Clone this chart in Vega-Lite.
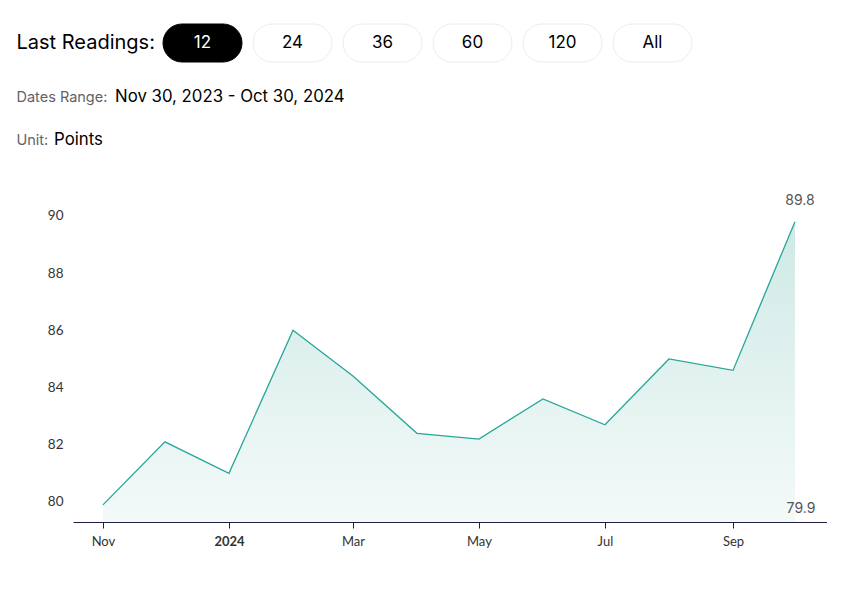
{
  "$schema": "https://vega.github.io/schema/vega-lite/v6.json",
  "background": "white",
  "padding": {"left": 16, "top": 23, "right": 0, "bottom": 0},
  "columns": 1,
  "spacing": 26,
  "bounds": "full",
  "config": {"view": {"stroke": null}},
  "concat": [
    {
      "width": 709,
      "height": 38,
      "data": {"values": [
        {"label": "Last Readings:", "option": "12", "selected": true},
        {"label": "Last Readings:", "option": "24", "selected": false},
        {"label": "Last Readings:", "option": "36", "selected": false},
        {"label": "Last Readings:", "option": "60", "selected": false},
        {"label": "Last Readings:", "option": "120", "selected": false},
        {"label": "Last Readings:", "option": "All", "selected": false}
      ]},
      "encoding": {
        "x": {"field": "option", "type": "nominal", "sort": null, "scale": {"paddingInner": 0.122, "paddingOuter": 1}, "axis": null},
        "y": {"field": "label", "type": "nominal", "scale": {"paddingInner": 0, "paddingOuter": 0},
          "axis": {"title": null, "domain": false, "ticks": false, "labelFontSize": 20, "labelColor": "#000000", "labelFont": "Inter", "labelAlign": "left", "labelPadding": 57}}
      },
      "layer": [
        {
          "mark": {"type": "rect", "cornerRadius": 19, "strokeWidth": 1},
          "encoding": {
            "fill": {"condition": {"test": "datum.selected", "value": "#000000"}, "value": "#ffffff"},
            "stroke": {"condition": {"test": "datum.selected", "value": "#000000"}, "value": "#ececec"}
          }
        },
        {
          "mark": {"type": "text", "fontSize": 17, "font": "Inter"},
          "encoding": {
            "text": {"field": "option"},
            "color": {"condition": {"test": "datum.selected", "value": "#ffffff"}, "value": "#000000"}
          }
        }
      ]
    },
    {
      "width": 400,
      "height": 16,
      "data": {"values": [{"label": "Dates Range:", "value": "Nov 30, 2023 - Oct 30, 2024"}]},
      "mark": {"type": "text", "align": "left", "fontSize": 16.8, "font": "Inter", "color": "#000000", "dx": 42},
      "encoding": {
        "x": {"datum": 0, "type": "quantitative", "scale": {"domain": [0, 1]}, "axis": null},
        "y": {"field": "label", "type": "nominal",
          "axis": {"title": null, "domain": false, "ticks": false, "labelFontSize": 14.5, "labelColor": "#5f6368", "labelFont": "Inter", "labelAlign": "left", "labelPadding": 57}},
        "text": {"field": "value"}
      }
    },
    {
      "width": 400,
      "height": 16,
      "data": {"values": [{"label": "Unit:", "value": "Points"}]},
      "mark": {"type": "text", "align": "left", "fontSize": 16.8, "font": "Inter", "color": "#000000", "dx": -19},
      "encoding": {
        "x": {"datum": 0, "type": "quantitative", "scale": {"domain": [0, 1]}, "axis": null},
        "y": {"field": "label", "type": "nominal",
          "axis": {"title": null, "domain": false, "ticks": false, "labelFontSize": 14.5, "labelColor": "#5f6368", "labelFont": "Inter", "labelAlign": "left", "labelPadding": 57}},
        "text": {"field": "value"}
      }
    },
    {
      "width": 754,
      "height": 347,
      "data": {"values": [
        {"date": "2023-11-01T00:00:00", "value": 79.9},
        {"date": "2023-12-01T00:00:00", "value": 82.1},
        {"date": "2024-01-01T00:00:00", "value": 81.0},
        {"date": "2024-02-01T00:00:00", "value": 86.0},
        {"date": "2024-03-01T00:00:00", "value": 84.4},
        {"date": "2024-04-01T00:00:00", "value": 82.4},
        {"date": "2024-05-01T00:00:00", "value": 82.2},
        {"date": "2024-06-01T00:00:00", "value": 83.6},
        {"date": "2024-07-01T00:00:00", "value": 82.7},
        {"date": "2024-08-01T00:00:00", "value": 85.0},
        {"date": "2024-09-01T00:00:00", "value": 84.6},
        {"date": "2024-10-01T00:00:00", "value": 89.8}
      ]},
      "encoding": {
        "x": {"field": "date", "type": "temporal",
          "scale": {"domain": [{"year": 2023, "month": 10, "date": 17, "hours": 12}, {"year": 2024, "month": 10, "date": 16, "hours": 12}]},
          "axis": {"title": null, "grid": false, "tickCount": {"interval": "month", "step": 2},
            "labelExpr": "month(datum.value) == 0 ? timeFormat(datum.value, '%Y') : timeFormat(datum.value, '%b')",
            "labelFontWeight": {"condition": {"test": "month(datum.value) == 0", "value": "bold"}, "value": "normal"},
            "labelFont": "Lato", "labelFontSize": 13, "labelColor": "#333333", "labelPadding": 7,
            "domainColor": "#1f1f3d", "domainWidth": 1, "tickColor": "#1f1f3d", "tickSize": 6}},
        "y": {"field": "value", "type": "quantitative",
          "scale": {"domain": [79.3, 91.43], "nice": false, "zero": false},
          "axis": {"title": null, "grid": false, "domain": false, "ticks": false, "values": [80, 82, 84, 86, 88, 90],
            "labelFont": "Lato", "labelFontSize": 13.5, "labelColor": "#333333", "labelPadding": 10}}
      },
      "layer": [
        {
          "mark": {"type": "area", "clip": true, "color": {"gradient": "linear", "x1": 0, "y1": 0, "x2": 0, "y2": 1,
            "stops": [{"offset": 0, "color": "#cfe9e5"}, {"offset": 1, "color": "#f3faf9"}]}},
          "encoding": {"y2": {"datum": 79.3}}
        },
        {
          "mark": {"type": "line", "color": "#26a69a", "strokeWidth": 1.3}
        },
        {
          "data": {"values": [{"date": "2024-10-01T00:00:00", "value": 89.8, "label": "89.8"}]},
          "mark": {"type": "text", "fontSize": 14, "font": "Inter", "color": "#555555", "dx": 5, "dy": -21},
          "encoding": {"text": {"field": "label"}}
        },
        {
          "data": {"values": [{"date": "2024-10-01T00:00:00", "value": 79.9, "label": "79.9"}]},
          "mark": {"type": "text", "fontSize": 14, "font": "Inter", "color": "#555555", "dx": 6, "dy": 4},
          "encoding": {"text": {"field": "label"}}
        }
      ]
    }
  ]
}
